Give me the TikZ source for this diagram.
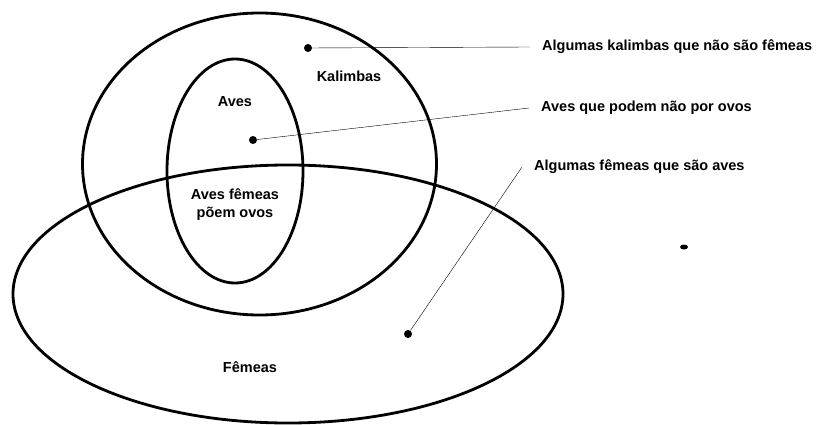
\documentclass[tikz,border=0pt]{standalone}
\usepackage{fontspec}
\setmainfont{Liberation Sans}
\usetikzlibrary{shapes.geometric}
\tikzset{
  set/.style = {line width = 2.8pt},
  dot/.style = {circle, fill, inner sep = 0pt, minimum size = 8pt},
  note/.style = {anchor = west, inner xsep = 12pt, inner ysep = 2pt},
}

\begin{document}
\begin{tikzpicture}[x = 1pt, y = -1pt, align = center, font = \bfseries\fontsize{14.5}{18}\selectfont]
      \useasboundingbox (0, 0) rectangle (829, 425);
      \draw[set] (259.5, 164) ellipse [x radius = 177, y radius = 151];
      \draw[set] (235, 171) ellipse [x radius = 68, y radius = 112];
      \draw[set] (288, 294) ellipse [x radius = 275, y radius = 129];
      \node (kalimbas) at (349, 76) {Kalimbas};
      \node (aves) at (235, 102) {Aves};
      \node (aves_femeas) at (235, 205) {Aves fêmeas \\ põem ovos};
      \node (femeas) at (250, 367) {Fêmeas};
      \node[dot] (dot_kalimbas) at (308, 48) {};
      \node[dot] (dot_aves) at (253, 140) {};
      \node[dot] (dot_femeas) at (408, 334) {};
      \node[fill, ellipse, inner sep = 0pt, minimum width = 8pt, minimum height = 5pt] (stray) at (684, 247) {};
      \node[note] (note_kalimbas) at (530, 47) {Algumas kalimbas que não são fêmeas};
      \node[note] (note_aves) at (529, 108) {Aves que podem não por ovos};
      \node[note] (note_femeas) at (522, 167) {Algumas fêmeas que são aves};
      \draw (dot_kalimbas) -- (note_kalimbas.west);
      \draw (dot_aves) -- (note_aves.west);
      \draw (dot_femeas) -- (note_femeas.west);
    \end{tikzpicture}
\end{document}
